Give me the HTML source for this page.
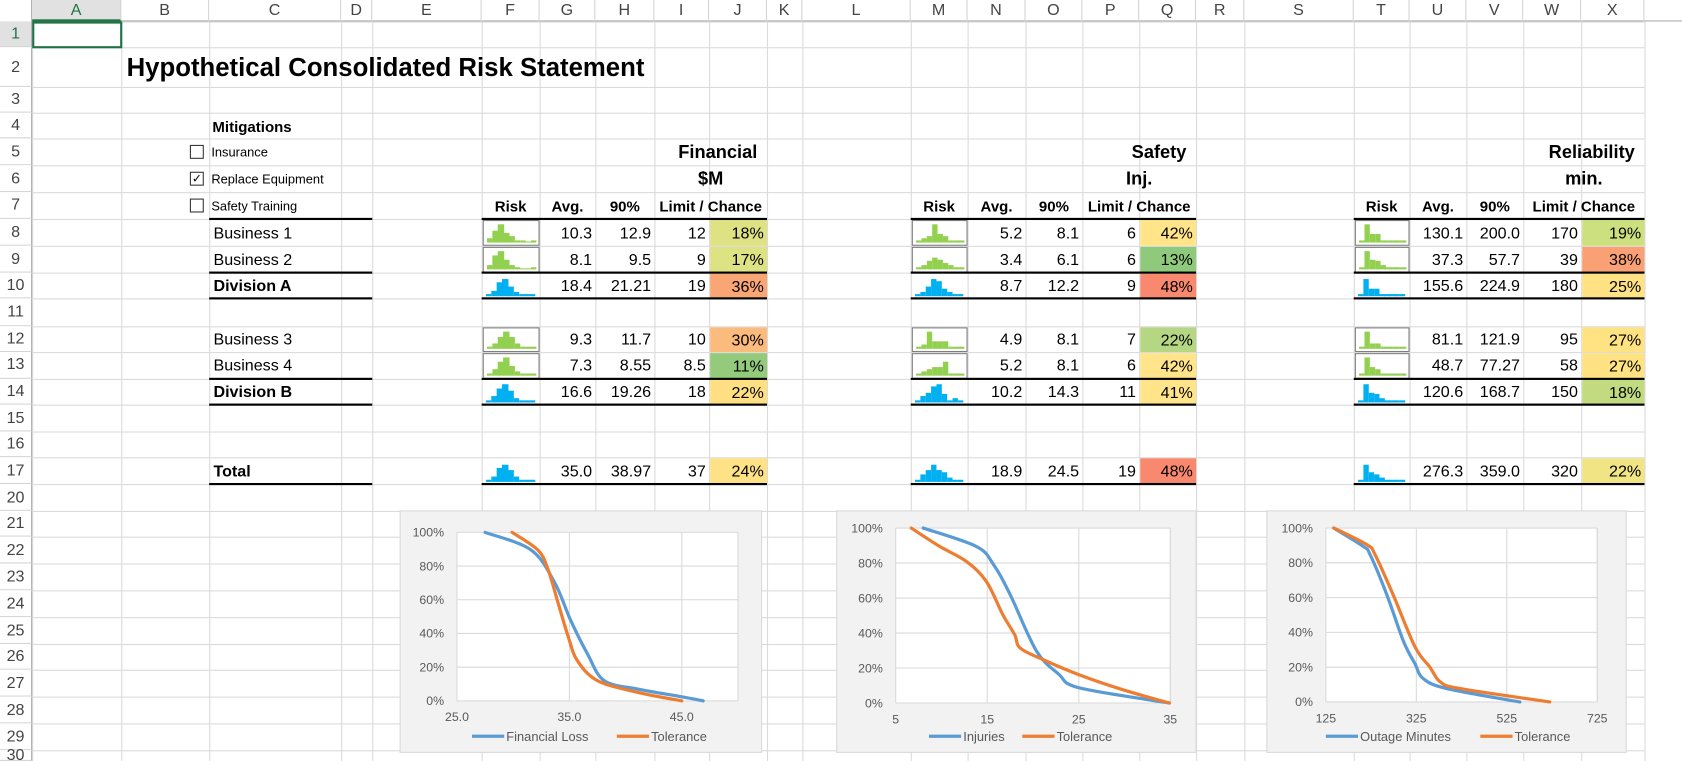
<!DOCTYPE html>
<html><head><meta charset="utf-8">
<style>
html,body{margin:0;padding:0;background:#fff;overflow:hidden;width:1682px;height:761px}
#sheet{position:absolute;left:0;top:0;width:1568px;height:709px;overflow:hidden;transform-origin:0 0;transform:scale(1.0727,1.0733);font-family:"Liberation Sans",Arial,sans-serif;color:#000}
.a{position:absolute;white-space:nowrap;box-sizing:border-box}
.hl{position:absolute;height:1px;background:#dadada}
.vl{position:absolute;width:1px;background:#dadada}
.ch{font-size:15px;color:#444;text-align:center;line-height:20px;top:0;height:20px}
.rh{font-size:15px;color:#444;text-align:center;left:0;width:30px}
.cell{font-size:15px;line-height:24px;height:24px;padding:0 3px}
.thick{position:absolute;height:2px;background:#000}
</style></head>
<body>
<div id="sheet">
<svg id="charts" width="1568" height="709" style="position:absolute;left:0;top:0;z-index:5"></svg>
</div>
<script>
const colEdges=[0,30,113,195,318,347,449,503,555,610,661,715,748,849,902,956,1009,1062,1115,1160,1262,1314,1367,1420,1474,1533,1568];
const colNames=['A','B','C','D','E','F','G','H','I','J','K','L','M','N','O','P','Q','R','S','T','U','V','W','X'];
const rowNums=[1,2,3,4,5,6,7,8,9,10,11,12,13,14,15,16,17,20,21,22,23,24,25,26,27,28,29,30];
const rowEdges=[20,44,81,105,129,154,179,203.5,228.5,253.5,278,303.5,328,352.5,376.5,402,426,451,476,500,525,550,575,600,624,649,674,699,724];

const rowLabels=['Business 1','Business 2','Division A','Business 3','Business 4','Division B','Total'];
const rowIdx=[8,9,10,12,13,14,17];
const finAvg=['10.3','8.1','18.4','9.3','7.3','16.6','35.0'];
const finP90=['12.9','9.5','21.21','11.7','8.55','19.26','38.97'];
const finLimit=['12','9','19','10','8.5','18','37'];
const finChance=['18%','17%','36%','30%','11%','22%','24%'];
const finColor=['#dfe283','#dde283','#f9a574','#fbbb7c','#93ca7c','#fee083','#fee285'];
const safAvg=['5.2','3.4','8.7','4.9','5.2','10.2','18.9'];
const safP90=['8.1','6.1','12.2','8.1','8.1','14.3','24.5'];
const safLimit=['6','6','9','7','6','11','19'];
const safChance=['42%','13%','48%','22%','42%','41%','48%'];
const safColor=['#ffe48a','#8fc97b','#f8896e','#b5d683','#ffe48a','#ffe48a','#f8896e'];
const relAvg=['130.1','37.3','155.6','81.1','48.7','120.6','276.3'];
const relP90=['200.0','57.7','224.9','121.9','77.27','168.7','359.0'];
const relLimit=['170','39','180','95','58','150','320'];
const relChance=['19%','38%','25%','27%','27%','18%','22%'];
const relColor=['#cde07f','#f9a175','#fee283','#ffe383','#ffe383','#c2da80','#f0e484'];
const sparkFin=[[2,6,9,5,3,1,1,0,1],[2,7,9,5,2,1,0,0,1],[1,3,7,9,5,2,1,1,1],[1,3,6,9,6,3,1,1,1],[1,3,7,9,5,2,1,1,1],[1,3,7,9,6,2,1,1,1],[1,3,7,9,6,3,1,1,1]];
const sparkSaf=[[1,2,3,9,4,3,1,1,1],[1,2,4,6,5,3,2,1,1],[1,2,5,9,8,4,2,1,1],[1,2,9,4,4,4,1,1,1],[1,2,3,4,4,7,1,1,1],[1,3,5,8,9,4,1,2,1],[1,4,6,9,6,5,2,1,1]];
const sparkRel=[[1,9,4,4,1,1,1,1,1],[1,9,5,4,2,1,1,1,1],[1,9,4,4,1,1,1,1,1],[1,9,3,3,1,1,1,1,1],[1,9,4,3,1,1,1,1,1],[1,9,5,4,2,1,1,1,1],[1,9,5,4,2,1,1,1,1]];

const finBlueX=[27.5,31.6,33.7,35.1,36.6,38.1,41.1,45,46.9];
const finBlueY=[100,89.5,70,48,28,12,7,2.4,0];
const finOrX=[29.9,32.2,33.1,34,34.9,35.7,37.5,41.1,45];
const finOrY=[100,89.5,78,58,38,24,12,5,0];
const finTicks=['25.0','35.0','45.0'];
const safBlueX=[8,13.8,15.7,17.5,20.4,22.9,24,26.9,34.9];
const safBlueY=[100,89.5,79,62,29.5,16,10.5,6.7,0];
const safOrX=[6.7,9.8,12.7,14.9,16.7,18,18.6,21.1,25.1,29.8,34.9];
const safOrY=[100,89.5,81,69.5,50.5,39,31.4,24.8,16,7.6,0];
const safTicks=['5','15','25','35'];
const relBlueX=[142,208,223,260,297,322,340,392,554];
const relBlueY=[100,89.4,84.6,61.5,34.6,22,13.5,7.7,0];
const relOrX=[143,216,234,274,322,355,378,422,620];
const relOrY=[100,90.4,84.6,61.5,31.7,20,11.5,7.7,0];
const relTicks=['125','325','525','725'];
const yTicks=['0%','20%','40%','60%','80%','100%'];

const S=document.getElementById('sheet');
function div(cls,x,y,w,h,txt,st){const d=document.createElement('div');d.className=cls;d.style.left=x+'px';d.style.top=y+'px';if(w!=null)d.style.width=w+'px';if(h!=null)d.style.height=h+'px';if(txt!=null)d.textContent=txt;if(st)d.style.cssText+=st;S.appendChild(d);return d;}
function rowTop(r){return rowEdges[rowNums.indexOf(r)];}
function rowH(r){const i=rowNums.indexOf(r);return rowEdges[i+1]-rowEdges[i];}

for(let i=1;i<colEdges.length-1;i++){const v=div('vl',colEdges[i],0,null,709);

}
for(let i=0;i<rowEdges.length;i++){const h=div('hl',0,rowEdges[i],1533,null);

}
const hdrBg=div('a',0,0,1568,20,null,'background:#fff;border-bottom:1px solid #ababab');


const corner=div('a',0,0,30,20,null,'border-right:1px solid #ababab;background:#fff');


for(let i=0;i<colNames.length;i++){const x=colEdges[i+1],w=colEdges[i+2]-x;const sel=i==0;
const c=div('a ch',x,0,w,20,colNames[i],'border-right:1px solid #d4d4d4;'+(sel?'background:#e1e1e1;color:#217346;border-bottom:2px solid #217346;':''));

}
for(let i=0;i<rowNums.length;i++){const y=rowEdges[i],h=Math.min(rowEdges[i+1],709)-y;
const r=div('a rh',0,y,30,h,String(rowNums[i]),'line-height:'+h+'px;background:#fff;border-right:1px solid #ababab;border-bottom:1px solid #d4d4d4;'+(i==0?'color:#217346;background:#e1e1e1;':''));

}
const a1=div('a',30,20,84,25,null,'border:2px solid #217346');



const t=div('a',118,44,520,37,'Hypothetical Consolidated Risk Statement','font-size:24px;font-weight:bold;line-height:40px');


const mt=div('a',198,105,120,24,'Mitigations','font-size:14px;font-weight:bold;line-height:26px');


const mits=['Insurance','Replace Equipment','Safety Training'];const mitChecked=[false,true,false];
mits.forEach((m,i)=>{const y=rowTop(5+i);
const cb=div('a',177,y+6,13,13,mitChecked[i]?'✓':'','border:1px solid #333;background:#fff;font-size:11px;line-height:12px;text-align:center');


const lb=div('a',197,y,130,25,m,'font-size:12px;line-height:26px');

});

rowLabels.forEach((l,i)=>{const r=rowIdx[i];const bold=/Division|Total/.test(l);
const d=div('a cell',195,rowTop(r),150,rowH(r),l,'line-height:'+(rowH(r)+2)+'px;padding-left:4px;'+(bold?'font-weight:bold;':''));

});
function thick(x1,x2,r){const d=div('thick',x1,rowTop(r)+rowH(r)-1,x2-x1,null);

}
[7,9,10,13,14,17].forEach(r=>thick(195,347,r));

function section(ci,title,unit,avg,p90,lim,ch,colr,spark){
 const E=colEdges;const x=[E[ci],E[ci+1],E[ci+2],E[ci+3],E[ci+4],E[ci+5]];
 const tt=div('a',x[3]-40,rowTop(5),x[5]-x[3]+40-9,25,title,'font-size:17px;font-weight:bold;text-align:right;line-height:26px');
 
 
 const un=div('a',x[3],rowTop(6),x[5]-x[3],25,unit,'font-size:17px;font-weight:bold;text-align:center;line-height:26px');
 
 
 const hd=[['Risk',0,1],['Avg.',1,2],['90%',2,3],['Limit / Chance',3,5]];
 hd.forEach(h=>{const d=div('a',x[h[1]],rowTop(7),x[h[2]]-x[h[1]],25,h[0],'font-size:14px;font-weight:bold;text-align:center;line-height:27px');
 
 });
 rowIdx.forEach((r,i)=>{const y=rowTop(r),h=rowH(r);
  const vals=[avg[i],p90[i],lim[i]];
  vals.forEach((v,k)=>{const d=div('a cell',x[k+1],y,x[k+2]-x[k+1],h,v,'text-align:right;line-height:'+(h+2)+'px');
  
  });
  const c=div('a cell',x[4]+1,y+1,x[5]-x[4]-1,h-1,ch[i],'text-align:right;background:'+colr[i]+';line-height:'+(h+1)+'px');
  
  
  const bus=/Business/.test(rowLabels[i]);
  const sp=div('a',x[0]+1,y+1,x[1]-x[0]-1,h-1,null,bus?'border:1px solid #7f7f7f':'');
  
  
  const arr=spark[i];const bw=(x[1]-x[0]-8)/arr.length;const col=bus?'#92d050':'#00b0f0';
  arr.forEach((v,k)=>{const b=document.createElement('div');b.className='a';
  b.style.cssText+='left:'+(3+k*bw)+'px;bottom:2px;width:'+(bw+0.3)+'px;height:'+Math.max(1,v*1.8)+'px;background:'+col;
  
  
  sp.appendChild(b);});
 });
 [7,9,10,13,14,17].forEach(r=>thick(x[0],x[5],r));
}
section(6,'Financial','$M',finAvg,finP90,finLimit,finChance,finColor,sparkFin);
section(13,'Safety','Inj.',safAvg,safP90,safLimit,safChance,safColor,sparkSaf);
section(20,'Reliability','min.',relAvg,relP90,relLimit,relChance,relColor,sparkRel);

const NS='http://www.w3.org/2000/svg';const G=document.getElementById('charts');
function el(tag,attrs,parent){const e=document.createElementNS(NS,tag);for(const k in attrs)e.setAttribute(k,attrs[k]);(parent||G).appendChild(e);return e;}
function smooth(pts){let d='M'+pts[0][0]+','+pts[0][1];
 for(let i=0;i<pts.length-1;i++){const p0=pts[Math.max(0,i-1)],p1=pts[i],p2=pts[i+1],p3=pts[Math.min(pts.length-1,i+2)];
 const c1=[p1[0]+(p2[0]-p0[0])/6,p1[1]+(p2[1]-p0[1])/6],c2=[p2[0]-(p3[0]-p1[0])/6,p2[1]-(p3[1]-p1[1])/6];
 d+=' C'+c1[0]+','+c1[1]+' '+c2[0]+','+c2[1]+' '+p2[0]+','+p2[1];}
 return d;}
function chart(cfg){
 const g=el('g',{});
 
 
 const bg=el('rect',{x:cfg.bx,y:476,width:cfg.bw,height:225,fill:'#f2f2f2',stroke:'#d9d9d9'},g);
 
 
 const X=v=>cfg.px0+(v-cfg.xmin)/(cfg.xmax-cfg.xmin)*(cfg.px1-cfg.px0);
 const Y=v=>cfg.py1-v/100*(cfg.py1-cfg.py0);
 const pa=el('rect',{x:cfg.px0,y:cfg.py0,width:cfg.px1-cfg.px0,height:cfg.py1-cfg.py0,fill:'#fff'},g);
 
 
 yTicks.forEach((t,i)=>{const v=i*20;
  const l=el('line',{x1:cfg.px0,x2:cfg.px1,y1:Y(v),y2:Y(v),stroke:'#d9d9d9'},g);
  
  
  const tx=el('text',{x:cfg.px0-12,y:Y(v)+4,'text-anchor':'end','font-size':'11.5','fill':'#595959','font-family':'Liberation Sans, sans-serif'},g);tx.textContent=t;
  
  });
 cfg.ticks.forEach(t=>{const v=parseFloat(t);
  const l=el('line',{x1:X(v),x2:X(v),y1:cfg.py0,y2:cfg.py1,stroke:'#d9d9d9'},g);
  
  
  const tx=el('text',{x:X(v),y:cfg.py1+19,'text-anchor':'middle','font-size':'11.5','fill':'#595959','font-family':'Liberation Sans, sans-serif'},g);tx.textContent=t;
  
  });
 const rl=el('line',{x1:cfg.px1,x2:cfg.px1,y1:cfg.py0,y2:cfg.py1,stroke:'#d9d9d9'},g);
 
 
 [[cfg.bx_,cfg.by_,'#5b9bd5'],[cfg.ox,cfg.oy,'#ed7d31']].forEach(s=>{
  const pts=s[0].map((v,i)=>[X(v),Y(s[1][i])]);
  const p=el('path',{d:smooth(pts),fill:'none',stroke:s[2],'stroke-width':'3','stroke-linejoin':'round','stroke-linecap':'round'},g);
  
  });
 const ly=686;
 [[cfg.l1x,cfg.s1,'#5b9bd5'],[cfg.l2x,'Tolerance','#ed7d31']].forEach(L=>{
  const ln=el('line',{x1:L[0],x2:L[0]+30,y1:ly,y2:ly,stroke:L[2],'stroke-width':'3'},g);
  
  
  const tx=el('text',{x:L[0]+32,y:ly+4.5,'font-size':'12','fill':'#595959','font-family':'Liberation Sans, sans-serif'},g);tx.textContent=L[1];
  
  });
}
chart({name:'financial-chart',bx:373,bw:337,px0:426,px1:688,py0:496,py1:653,xmin:25,xmax:50,ticks:finTicks,bx_:finBlueX,by_:finBlueY,ox:finOrX,oy:finOrY,s1:'Financial Loss',l1x:440,l2x:575});
chart({name:'safety-chart',bx:780,bw:335,px0:835,px1:1091,py0:492,py1:655,xmin:5,xmax:35,ticks:safTicks,bx_:safBlueX,by_:safBlueY,ox:safOrX,oy:safOrY,s1:'Injuries',l1x:866,l2x:953});
chart({name:'reliability-chart',bx:1181,bw:335,px0:1236,px1:1489,py0:492,py1:654,xmin:125,xmax:725,ticks:relTicks,bx_:relBlueX,by_:relBlueY,ox:relOrX,oy:relOrY,s1:'Outage Minutes',l1x:1236,l2x:1380});
</script>
</body></html>
